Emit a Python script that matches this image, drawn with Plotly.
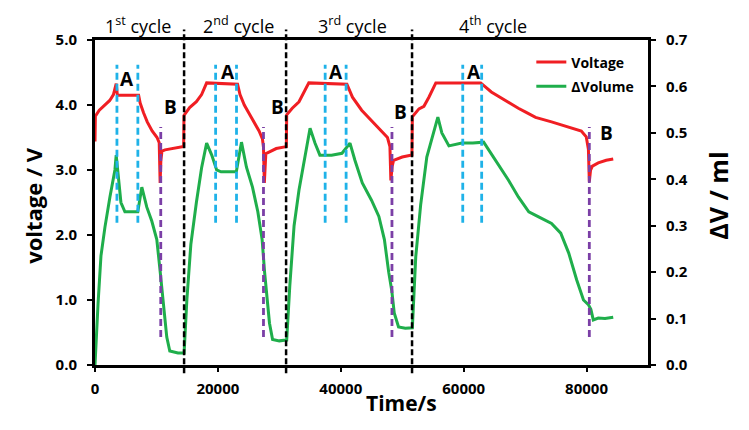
import plotly.graph_objects as go

# ---------------- data ----------------
volt_t = [0, 60, 700, 1500, 2400, 3000, 3450, 3620, 3750, 7100, 7350, 7900, 8500, 9300, 10100, 10450, 10600, 10720, 10900, 11400, 12800, 14430,
          14480, 15400, 16500, 17350, 18170, 23200, 23600, 24300, 25500, 26700, 27250, 27420, 27560, 27800, 29500, 31140,
          31200, 32100, 33200, 34000, 34800, 41000, 41900, 43400, 45000, 46300, 47600, 48000, 48150, 48350, 48600, 50000, 51580,
          51650, 52720, 53530, 54340, 55470, 62770, 64500, 66200, 67300, 68900, 70100, 71700, 74300, 77050, 79150, 79950, 80300, 80450, 80650, 80950, 81900, 83200, 84340]
volt_v = [3.44, 3.83, 3.92, 3.99, 4.07, 4.16, 4.33, 4.17, 4.15, 4.15, 4.03, 3.88, 3.74, 3.60, 3.50, 3.42, 2.80, 3.15, 3.29, 3.31, 3.33, 3.36,
          3.84, 3.96, 4.05, 4.16, 4.34, 4.32, 4.16, 4.00, 3.80, 3.60, 3.48, 3.35, 2.80, 3.25, 3.33, 3.36,
          3.85, 3.95, 4.05, 4.20, 4.34, 4.32, 4.12, 3.92, 3.76, 3.64, 3.50, 3.36, 2.84, 3.05, 3.15, 3.20, 3.23,
          3.82, 3.94, 3.98, 4.12, 4.34, 4.34, 4.20, 4.10, 4.04, 3.95, 3.89, 3.81, 3.74, 3.66, 3.60, 3.51, 3.32, 2.82, 3.00, 3.06, 3.11, 3.15, 3.17]

vol_t = [0, 250, 500, 970, 1620, 2430, 3240, 3450, 3800, 4220, 4870, 6970, 7620, 8430, 9240, 10060, 10540, 11030, 11680, 12170, 13500, 14430,
         14500, 14950, 15600, 16500, 17350, 18170, 19000, 19800, 20500, 23000, 23840, 24650, 25630, 26500, 27200, 27600, 27950, 28400, 28900, 30000, 31140,
         31200, 31700, 32400, 33200, 34000, 35000, 35800, 36600, 38500, 40200, 41500, 42300, 43500, 45000, 46200, 47100, 47800, 48300, 48700, 49400, 50500, 51580,
         51650, 52200, 53000, 54000, 55150, 55800, 56450, 57600, 59700, 61500, 63250, 65200, 67300, 68900, 70600, 72200, 74300, 75800, 77100, 78400, 79500, 80300, 80700, 81100, 81900, 83000, 84340]
vol_v = [0.0, 0.07, 0.133, 0.235, 0.297, 0.362, 0.42, 0.452, 0.40, 0.35, 0.33, 0.33, 0.383, 0.34, 0.31, 0.27, 0.21, 0.14, 0.06, 0.03, 0.026, 0.026,
         0.026, 0.14, 0.26, 0.35, 0.425, 0.478, 0.452, 0.42, 0.416, 0.416, 0.48, 0.426, 0.383, 0.33, 0.27, 0.20, 0.15, 0.09, 0.055, 0.052, 0.054,
         0.054, 0.17, 0.30, 0.377, 0.435, 0.51, 0.478, 0.452, 0.452, 0.456, 0.478, 0.441, 0.392, 0.355, 0.32, 0.27, 0.20, 0.16, 0.112, 0.082, 0.079, 0.08,
         0.08, 0.233, 0.345, 0.448, 0.506, 0.534, 0.50, 0.472, 0.478, 0.478, 0.48, 0.441, 0.398, 0.362, 0.33, 0.319, 0.305, 0.284, 0.241, 0.183, 0.14, 0.13, 0.12, 0.097, 0.101, 0.10, 0.103]

cycle_bounds = [14500, 31100, 51600]              # black dashed separators
a_marks = [3570, 6975, 19630, 23030, 37460, 40870, 59850, 62930]   # blue dashed (A)
b_marks = [10700, 27420, 48330, 80450]           # purple dashed (B)
a_label_t = [5190, 21570, 39250, 61640]
a_label_v = [4.40, 4.51, 4.51, 4.51]
b_label_t = [12330, 29680, 49800, 83210]
b_label_v = [3.97, 3.97, 3.89, 3.57]
cycle_label_t = [6970, 23360, 41850, 64720]
cycle_labels = ["1<sup>st</sup> cycle", "2<sup>nd</sup> cycle", "3<sup>rd</sup> cycle", "4<sup>th</sup> cycle"]
x_ticks = [0, 20000, 40000, 60000, 80000]

RED = "#f01e23"
GREEN = "#1fae4b"
BLUE = "#1fb2e8"
PURPLE = "#7b3fa6"
FONT = "Open Sans"

fig = go.Figure()
fig.add_trace(go.Scatter(x=volt_t, y=volt_v, mode="lines", name="Voltage",
                         line=dict(color=RED, width=3), legendgroup="v"))
fig.add_trace(go.Scatter(x=vol_t, y=vol_v, mode="lines", name="ΔVolume",
                         line=dict(color=GREEN, width=3), yaxis="y2", legendgroup="dv"))

shapes = []
for t in cycle_bounds:
    shapes.append(dict(type="line", xref="x", yref="paper", x0=t, x1=t, y0=-0.025, y1=1.032,
                       line=dict(color="black", width=2.5, dash="6px,3px")))
for t in a_marks:
    shapes.append(dict(type="line", xref="x", yref="y", x0=t, x1=t, y0=2.19, y1=4.62,
                       line=dict(color=BLUE, width=2.8, dash="7px,4px")))
for t in b_marks:
    shapes.append(dict(type="line", xref="x", yref="y", x0=t, x1=t, y0=0.43, y1=3.66,
                       line=dict(color=PURPLE, width=2.8, dash="7px,4px")))

ann = []
for t, v in zip(a_label_t, a_label_v):
    ann.append(dict(x=t, y=v, xref="x", yref="y", text="A", showarrow=False,
                    font=dict(family=FONT, size=19, color="black", weight="bold")))
for t, v in zip(b_label_t, b_label_v):
    ann.append(dict(x=t, y=v, xref="x", yref="y", text="B", showarrow=False,
                    font=dict(family=FONT, size=19, color="black", weight="bold")))
for t, s in zip(cycle_label_t, cycle_labels):
    ann.append(dict(x=t, y=1.047, xref="x", yref="paper", text=s, showarrow=False, yanchor="middle",
                    font=dict(family=FONT, size=18, color="black")))
ann.append(dict(x=0.555, y=-0.117, xref="paper", yref="paper", text="Time/s", showarrow=False,
                yanchor="middle", font=dict(family=FONT, size=21, color="black", weight="bold")))
ann.append(dict(x=-0.112, y=0.49, xref="paper", yref="paper", text="voltage / V", showarrow=False,
                textangle=-90, xanchor="center", yanchor="middle",
                font=dict(family=FONT, size=22, color="black", weight="bold")))
ann.append(dict(x=1.126, y=0.52, xref="paper", yref="paper", text="ΔV / ml", showarrow=False,
                textangle=-90, xanchor="center", yanchor="middle",
                font=dict(family=FONT, size=25, color="black", weight="bold")))

tickfont = dict(family=FONT, size=15, color="black", weight="bold")
# the page body adds an 8px offset at top/left, so the figure is 8px smaller and left/top margins shifted
fig.update_layout(
    width=741, height=422,
    margin=dict(l=87, r=101, t=32, b=65),
    paper_bgcolor="white", plot_bgcolor="white",
    showlegend=True,
    legend=dict(x=0.789, y=0.98, xanchor="left", yanchor="top", bgcolor="rgba(0,0,0,0)",
                font=dict(family=FONT, size=14, color="black", weight="bold"),
                tracegroupgap=3, itemwidth=30),
    xaxis=dict(range=[0, 90000], tickvals=x_ticks, ticktext=[str(v) for v in x_ticks],
               showgrid=False, zeroline=False, showline=True, linecolor="black", linewidth=3,
               mirror=True, ticks="outside", ticklen=4, tickwidth=2, tickcolor="black",
               tickfont=tickfont, ticklabelstandoff=4),
    yaxis=dict(range=[0, 5], dtick=1, tickformat=".1f", showgrid=False, zeroline=False,
               showline=True, linecolor="black", linewidth=3, ticks="outside", ticklen=5,
               tickwidth=2, tickcolor="black", tickfont=tickfont, ticklabelstandoff=7),
    yaxis2=dict(range=[0, 0.7], dtick=0.1, tickformat=".1f", overlaying="y", side="right",
                showgrid=False, zeroline=False, showline=True, linecolor="black", linewidth=3,
                ticks="outside", ticklen=5, tickwidth=2, tickcolor="black", tickfont=tickfont,
                ticklabelstandoff=7),
    shapes=shapes, annotations=ann,
)

fig.write_html("out.html")
